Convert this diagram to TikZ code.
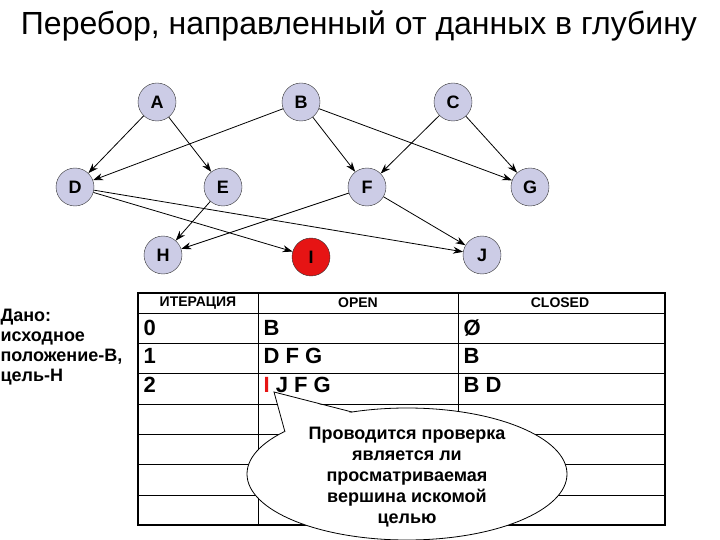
\documentclass[tikz,border=0pt]{standalone}
\usepackage{fontspec}
\setmainfont{Liberation Sans}
\usetikzlibrary{arrows.meta}
\definecolor{nodefill}{RGB}{204,204,230}
\definecolor{ired}{RGB}{230,20,20}
\tikzset{
 vert/.style={circle,draw=black!80,fill=nodefill,minimum size=38pt,inner sep=0pt,font=\fontsize{18}{18}\selectfont\bfseries},
 edge/.style={-{Stealth[length=10pt,width=7pt]},thick},
 cell/.style={anchor=west,font=\fontsize{22}{22}\selectfont\bfseries},
 hdr/.style={font=\fontsize{14}{14}\selectfont\bfseries}
}
\begin{document}
\begin{tikzpicture}[x=1pt,y=-1pt]
\useasboundingbox (0,0) rectangle (720,540);
\node (title) at (359,26) {\fontsize{32}{32}\selectfont Перебор, направленный от данных в глубину};
\node[vert] (A) at (157,102) {A};
\node[vert] (B) at (301,102) {B};
\node[vert] (C) at (453,102) {C};
\node[vert] (D) at (75,187) {D};
\node[vert] (E) at (223,187) {E};
\node[vert] (F) at (367,187) {F};
\node[vert] (G) at (530,187) {G};
\node[vert] (H) at (163,255) {H};
\node[vert,fill=ired] (I) at (311,257) {I};
\node[vert] (J) at (482,255) {J};
\draw[edge] (A)--(D); \draw[edge] (A)--(E);
\draw[edge] (B)--(D); \draw[edge] (B)--(F); \draw[edge] (B)--(G);
\draw[edge] (C)--(F); \draw[edge] (C)--(G);
\draw[edge] (D)--(I); \draw[edge] (D)--(J);
\draw[edge] (E)--(H); \draw[edge] (F)--(H); \draw[edge] (F)--(J);
% table
\draw[very thick] (138,293) rectangle (665,525);
\foreach \y in {313,343,373,404,434,464,495} \draw[thick] (138,\y)--(665,\y);
\draw[thick] (258,293)--(258,525);
\draw[thick] (458,293)--(458,525);
\node[hdr] (h1) at (198,303) {ИТЕРАЦИЯ};
\node[hdr] (h2) at (358,303) {OPEN};
\node[hdr] (h3) at (560,303) {CLOSED};
\node[cell] (r0a) at (140,328) {0};
\node[cell] (r0b) at (260,328) {B};
\node[cell] (r0c) at (460,328) {Ø};
\node[cell] (r1a) at (140,356) {1};
\node[cell] (r1b) at (260,356) {D F G};
\node[cell] (r1c) at (460,356) {B};
\node[cell] (r2a) at (140,385) {2};
\node[cell] (r2b) at (260,385) {\textcolor{ired}{I} J F G};
\node[cell] (r2c) at (460,385) {B D};
\node[anchor=north west,align=left,font=\fontsize{18}{20}\selectfont\bfseries] (given) at (-3,306) {Дано:\\исходное\\положение-В,\\цель-Н};
% callout
\draw[thick,fill=white] (407,474) ellipse (160 and 66);
\fill[white] (352,413) -- (274,392) -- (285,433) -- cycle;
\draw[thick] (285,432) -- (274,392) -- (352,412);
\node[align=center,font=\fontsize{18}{21}\selectfont\bfseries] (note) at (407,477) {Проводится проверка\\является ли\\просматриваемая\\вершина искомой\\целью};
\end{tikzpicture}
\end{document}
